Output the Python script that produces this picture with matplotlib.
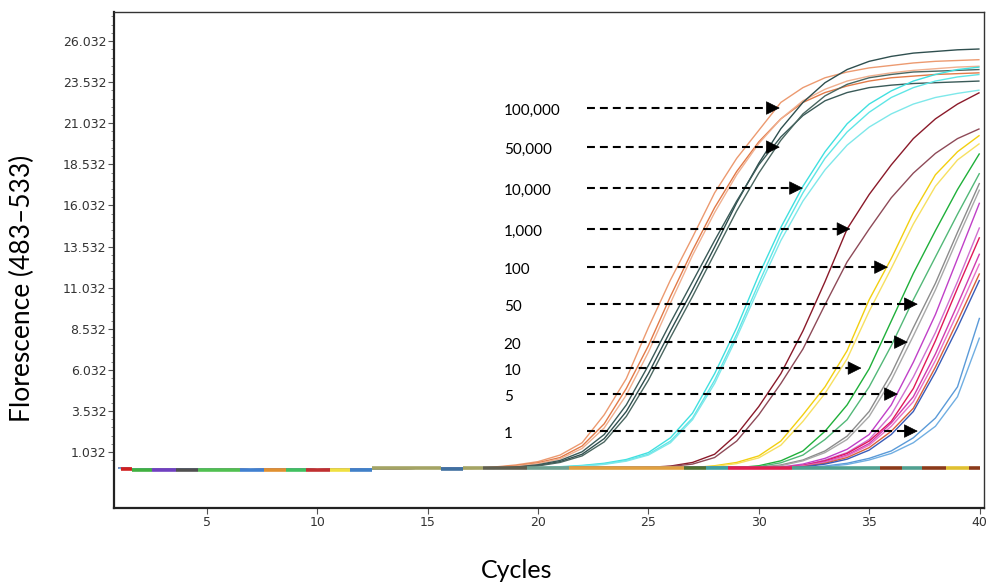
import numpy as np
import matplotlib
matplotlib.use("Agg")
import matplotlib.pyplot as plt

# ---- amplification data (fluorescence per cycle) ----
cycles = np.arange(1, 41)

# shared pre-amplification baseline, cycles 1..31
baseline = [0.05, 0.0, -0.03, -0.01, -0.02, -0.03, -0.04, -0.03, -0.02, -0.04,
            -0.03, -0.02, 0.03, 0.04, 0.05, 0.04, 0.05, 0.06, 0.07, 0.08,
            0.08, 0.09, 0.09, 0.10, 0.10, 0.10, 0.10, 0.11, 0.11, 0.12, 0.12]

# each curve: first cycle leaving the baseline, then readings up to cycle 40
orange_1 = (17, [0.05, 0.12, 0.25, 0.45, 0.85, 1.6, 3.3, 5.5, 8.6, 11.5, 14.1, 16.8,
                 18.9, 20.6, 22.3, 23.2, 23.8, 24.15, 24.4, 24.55, 24.7, 24.8, 24.85, 24.9])
orange_2 = (17, [0.04, 0.1, 0.2, 0.38, 0.7, 1.4, 2.75, 4.9, 7.5, 10.5, 13.3, 15.9,
                 18.1, 19.9, 21.3, 22.3, 22.9, 23.3, 23.6, 23.8, 23.9, 24.0, 24.05, 24.1])
orange_3 = (17, [0.03, 0.08, 0.17, 0.33, 0.62, 1.25, 2.5, 4.5, 7.1, 10.1, 13.0, 15.6,
                 17.9, 19.8, 21.3, 22.4, 23.1, 23.6, 23.9, 24.1, 24.25, 24.35, 24.45, 24.5])
dark_1 = (18, [0.05, 0.1, 0.22, 0.45, 0.9, 1.85, 3.5, 5.8, 8.4, 10.9, 13.5, 16.2,
               18.6, 20.7, 22.3, 23.5, 24.3, 24.8, 25.1, 25.3, 25.4, 25.5, 25.55])
dark_2 = (18, [0.06, 0.12, 0.26, 0.52, 1.05, 2.1, 3.9, 6.3, 8.9, 11.4, 13.9, 16.3,
               18.5, 20.2, 21.5, 22.4, 22.9, 23.2, 23.35, 23.45, 23.5, 23.55, 23.6])
dark_3 = (18, [0.04, 0.09, 0.19, 0.4, 0.8, 1.65, 3.2, 5.4, 8.0, 10.5, 13.1, 15.7,
               18.0, 20.0, 21.6, 22.7, 23.4, 23.8, 24.0, 24.15, 24.2, 24.25, 24.3])
cyan_1 = (20, [0.08, 0.14, 0.22, 0.35, 0.58, 1.0, 1.9, 3.4, 5.8, 8.6, 11.8, 14.7,
               17.2, 19.3, 21.0, 22.2, 23.0, 23.6, 24.0, 24.3, 24.45])
cyan_2 = (20, [0.07, 0.12, 0.19, 0.31, 0.52, 0.9, 1.7, 3.1, 5.4, 8.2, 11.3, 14.3,
               16.8, 18.9, 20.5, 21.7, 22.6, 23.2, 23.6, 23.85, 24.0])
cyan_3 = (20, [0.06, 0.1, 0.17, 0.28, 0.48, 0.85, 1.6, 3.0, 5.2, 8.0, 11.0, 13.9,
               16.3, 18.2, 19.7, 20.8, 21.6, 22.2, 22.6, 22.85, 23.05])
maroon_1 = (24, [0.05, 0.1, 0.18, 0.4, 0.9, 2.1, 3.8, 5.8, 8.4, 11.4, 14.6, 16.7,
                 18.5, 20.1, 21.3, 22.2, 22.9])
maroon_2 = (24, [0.04, 0.08, 0.16, 0.3, 0.7, 1.7, 3.3, 5.2, 7.3, 10.0, 12.6, 14.6,
                 16.5, 18.0, 19.2, 20.1, 20.7])
yellow_1 = (27, [0.08, 0.2, 0.4, 0.8, 1.7, 3.3, 5.0, 7.2, 10.3, 12.8, 15.6, 17.9, 19.3, 20.3])
yellow_2 = (27, [0.06, 0.16, 0.33, 0.68, 1.45, 2.9, 4.6, 6.7, 9.6, 12.2, 14.9, 17.2, 18.8, 19.8])
green_1 = (29, [0.08, 0.2, 0.5, 1.1, 2.3, 3.9, 6.1, 9.0, 11.9, 14.5, 17.0, 19.2])
green_2 = (29, [0.06, 0.15, 0.38, 0.85, 1.8, 3.0, 5.0, 7.5, 10.3, 12.9, 15.5, 18.0])
grey_1 = (30, [0.1, 0.25, 0.55, 1.1, 2.0, 3.5, 5.8, 8.6, 11.3, 14.4, 17.4])
grey_2 = (30, [0.08, 0.2, 0.5, 1.0, 1.8, 3.2, 5.4, 8.1, 10.9, 14.0, 17.0])
magenta_1 = (31, [0.12, 0.3, 0.65, 1.2, 2.1, 3.9, 6.5, 9.4, 12.8, 16.2])
magenta_2 = (31, [0.1, 0.24, 0.55, 1.0, 1.8, 3.3, 5.6, 8.3, 11.4, 14.7])
crimson_1 = (31, [0.1, 0.22, 0.5, 0.95, 1.7, 2.9, 4.9, 7.8, 11.0, 14.1])
pink_1 = (31, [0.08, 0.2, 0.45, 0.85, 1.55, 2.8, 4.4, 7.0, 10.0, 13.1])
pink_2 = (31, [0.07, 0.18, 0.4, 0.8, 1.45, 2.6, 4.1, 6.6, 9.5, 12.5])
rust_1 = (31, [0.06, 0.15, 0.35, 0.7, 1.3, 2.3, 3.7, 6.2, 9.0, 11.9])
blue_1 = (31, [0.05, 0.13, 0.3, 0.6, 1.15, 2.1, 3.5, 5.9, 8.6, 11.5])
skyblue_1 = (32, [0.08, 0.18, 0.35, 0.65, 1.1, 1.9, 3.1, 5.0, 9.2])
skyblue_2 = (32, [0.06, 0.14, 0.28, 0.55, 0.95, 1.6, 2.6, 4.4, 8.0])

curve_list = [
    (orange_1, "#ec9a70"), (orange_2, "#e27a48"), (orange_3, "#f0b090"),
    (dark_1, "#2f4f4f"), (dark_2, "#3a5a58"), (dark_3, "#4a6660"),
    (cyan_1, "#40e0e0"), (cyan_2, "#5fe6e6"), (cyan_3, "#7ee8ea"),
    (maroon_1, "#8b1a2a"), (maroon_2, "#8e4a58"),
    (yellow_1, "#f2cf10"), (yellow_2, "#f7e060"),
    (green_1, "#1fb03a"), (green_2, "#52b878"),
    (grey_1, "#8c8c8c"), (grey_2, "#a8a8a8"),
    (magenta_1, "#c040c8"), (magenta_2, "#d070d0"),
    (crimson_1, "#e0185a"), (pink_1, "#d03cb0"), (pink_2, "#e870c8"),
    (rust_1, "#d8603a"), (blue_1, "#3a5cb8"),
    (skyblue_1, "#5a9ad8"), (skyblue_2, "#70aee2"),
]

# flat (no amplification) wells along the baseline: cycle span, level, colour
flat_start = [1.1, 1.6, 2.5, 3.6, 4.6, 6.5, 7.6, 8.6, 9.5, 10.6, 11.5, 12.5, 15.6, 16.6,
              17.5, 19.5, 21.4, 26.6, 27.6, 28.6, 31.5, 35.5, 36.5, 37.4, 38.5, 39.5]
flat_end = [1.6, 2.5, 3.6, 4.6, 6.5, 7.6, 8.6, 9.5, 10.6, 11.5, 12.5, 15.6, 16.6, 17.5,
            19.5, 21.4, 26.6, 27.6, 28.6, 31.5, 35.5, 36.5, 37.4, 38.5, 39.5, 40.0]
flat_level = [0.02, -0.04, -0.05, -0.03, -0.04, -0.05, -0.04, -0.04, -0.05, -0.05, -0.05,
              0.05, 0.03, 0.05, 0.06, 0.08, 0.08, 0.08, 0.08, 0.09, 0.09, 0.09, 0.09,
              0.09, 0.09, 0.09]
flat_color = ["#d02020", "#40b040", "#7040c0", "#505050", "#50c050", "#4080d0",
              "#e09030", "#40c060", "#c03030", "#f0e040", "#4080c8", "#a4a464",
              "#4070a0", "#a4a464", "#606050", "#70a090", "#e0a040", "#507030",
              "#40a0a0", "#e02050", "#50a090", "#8b3a1a", "#50a090", "#8b3a1a",
              "#e0c030", "#8b3a1a"]

# copy-number annotations
dilution_labels = ["100,000", "50,000", "10,000", "1,000", "100", "50", "20", "10", "5", "1"]
arrow_levels = [21.96, 19.58, 17.09, 14.6, 12.28, 10.03, 7.72, 6.14, 4.56, 2.31]
arrow_tips = [30.95, 30.95, 32.0, 34.15, 35.85, 37.2, 36.75, 34.65, 36.3, 37.2]

y_ticks = [1.032, 3.532, 6.032, 8.532, 11.032, 13.532, 16.032, 18.532, 21.032, 23.532, 26.032]
x_ticks = [5, 10, 15, 20, 25, 30, 35, 40]

# ---- figure ----
W, H = 989, 583
fig = plt.figure(figsize=(W / 100, H / 100), dpi=100)
ax = fig.add_axes([114 / W, 75 / H, 870 / W, 496 / H])

for (start, rise), col in curve_list:
    y = baseline[:start - 1] + rise
    ax.plot(cycles, y, color=col, lw=1.0, zorder=2, solid_capstyle="butt")

for s, e, lv, col in zip(flat_start, flat_end, flat_level, flat_color):
    ax.plot([s, e], [lv, lv], color=col, lw=2.6, zorder=3, solid_capstyle="butt")

dash_start = 22.2
head = 0.56
for lab, lv, tip in zip(dilution_labels, arrow_levels, arrow_tips):
    ax.plot([dash_start, tip - head + 0.05], [lv, lv], color="black", lw=1.5,
            ls=(0, (3.8, 2.4)), zorder=5)
    ax.annotate("", xy=(tip, lv), xytext=(tip - head, lv),
                arrowprops=dict(arrowstyle="-|>,head_length=0.9,head_width=0.45",
                                color="black", lw=0.5, mutation_scale=10,
                                shrinkA=0, shrinkB=0), zorder=6)
    ax.text(18.45, lv - 0.15, lab, ha="left", va="center", fontsize=11,
            family="Lato", color="black", zorder=6)

ax.set_xlim(0.8, 40.2)
ax.set_ylim(-2.37, 27.80)
ax.set_xticks(x_ticks)
ax.set_xticklabels([str(t) for t in x_ticks])
ax.set_yticks(y_ticks)
ax.set_yticklabels([f"{t:.3f}" for t in y_ticks])
ax.set_yticks(np.arange(0.532, 27.6, 0.5), minor=True)
ax.tick_params(axis="both", which="major", direction="out", length=4, width=0.8,
               labelsize=9, labelcolor="#333333", color="#555555", pad=1.5)
ax.tick_params(axis="y", which="minor", direction="out", length=2, width=0.6,
               color="#777777")

for side in ("left", "bottom"):
    ax.spines[side].set_linewidth(1.6)
    ax.spines[side].set_color("#222222")
for side in ("top", "right"):
    ax.spines[side].set_linewidth(1.0)
    ax.spines[side].set_color("#333333")

fig.text(22 / W, 1 - 288 / H, "Florescence (483\u2013533)", rotation=90,
         ha="center", va="center", fontsize=19, family="Lato")
fig.text(517 / W, 1 - 570 / H, "Cycles", ha="center", va="center",
         fontsize=18, family="Lato")

fig.savefig("out.png", dpi=100)
